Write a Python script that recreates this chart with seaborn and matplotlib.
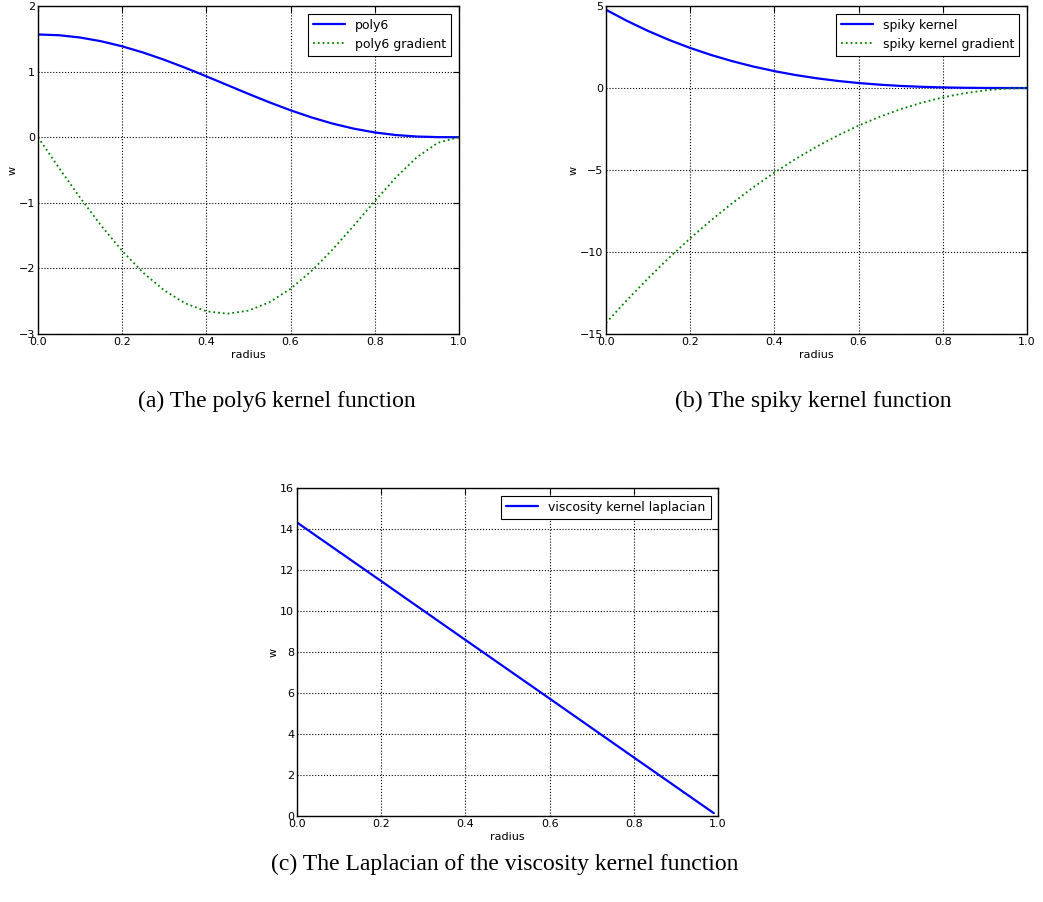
import numpy as np
import pandas as pd
import matplotlib
matplotlib.use("Agg")
import matplotlib.pyplot as plt
import seaborn as sns

# valores (raio de 0 a 1, passo 0.05)
raio = [0.00, 0.05, 0.10, 0.15, 0.20, 0.25, 0.30, 0.35, 0.40, 0.45, 0.50,
        0.55, 0.60, 0.65, 0.70, 0.75, 0.80, 0.85, 0.90, 0.95, 1.00]

poly6 = [1.5667, 1.5550, 1.5202, 1.4633, 1.3861, 1.2909, 1.1806, 1.0586,
         0.9286, 0.7947, 0.6610, 0.5316, 0.4107, 0.3017, 0.2078, 0.1312,
         0.0731, 0.0335, 0.0107, 0.0015, 0.0]
poly6_grad = [0.0, -0.4677, -0.9213, -1.3473, -1.7326, -2.0655, -2.3353,
              -2.5333, -2.6531, -2.6903, -2.6438, -2.5153, -2.3102, -2.0377,
              -1.7115, -1.3494, -0.9746, -0.6153, -0.3054, -0.0849, 0.0]

spiky = [4.7746, 4.0936, 3.4807, 2.9322, 2.4446, 2.0143, 1.6377, 1.3112,
         1.0313, 0.7944, 0.5968, 0.4351, 0.3056, 0.2047, 0.1289, 0.0746,
         0.0382, 0.0161, 0.0048, 0.0006, 0.0]
spiky_grad = [-14.3239, -12.9273, -11.6024, -10.3490, -9.1673, -8.0572,
              -7.0187, -6.0518, -5.1566, -4.3330, -3.5810, -2.9006, -2.2918,
              -1.7547, -1.2892, -0.8952, -0.5730, -0.3223, -0.1432, -0.0358, 0.0]

raio_visc = [0.0, 0.2, 0.4, 0.6, 0.8, 0.99]
visc_lap = [14.32, 11.46, 8.59, 5.73, 2.86, 0.14]

legendas = {
    'poly6': ['poly6', 'poly6 gradient'],
    'spiky': ['spiky kernel', 'spiky kernel gradient'],
    'visc': ['viscosity kernel laplacian'],
}
legendas_fig = ['(a) The poly6 kernel function',
                '(b) The spiky kernel function',
                '(c) The Laplacian of the viscosity kernel function']

sns.set_style("white")
plt.rcParams['font.family'] = ['DejaVu Sans']
plt.rcParams['axes.unicode_minus'] = True
plt.rcParams['text.color'] = 'black'
plt.rcParams['axes.labelcolor'] = 'black'

fig = plt.figure(figsize=(10.43, 9.02), dpi=100)
ax1 = fig.add_axes([0.0364, 0.6297, 0.4036, 0.3636])
ax2 = fig.add_axes([0.581, 0.6297, 0.4036, 0.3636])
ax3 = fig.add_axes([0.2848, 0.0953, 0.4036, 0.3636])


def estilo(ax, ylim, yticks):
    ax.set_xlim(0, 1)
    ax.set_ylim(*ylim)
    ax.set_xticks([0.0, 0.2, 0.4, 0.6, 0.8, 1.0])
    ax.set_yticks(yticks)
    ax.grid(True, color='black', linestyle=':', linewidth=0.8)
    ax.tick_params(direction='in', length=4, width=0.8, top=True, right=True,
                   labelsize=8, pad=2, colors='black')
    for s in ax.spines.values():
        s.set_color('black')
        s.set_linewidth(1.0)
    ax.set_xlabel('radius', fontsize=8, labelpad=2)
    ax.set_ylabel('w', fontsize=8, labelpad=1)
    leg = ax.legend(loc='upper right', fontsize=9, fancybox=False,
                    framealpha=1, edgecolor='black', handlelength=2.6,
                    borderaxespad=0.6)
    leg.get_frame().set_linewidth(0.8)


# (a) poly6
df_a = pd.DataFrame({'radius': raio, 'w': poly6})
df_a2 = pd.DataFrame({'radius': raio, 'w': poly6_grad})
sns.lineplot(data=df_a, x='radius', y='w', ax=ax1, color='blue', lw=1.6,
             label=legendas['poly6'][0])
sns.lineplot(data=df_a2, x='radius', y='w', ax=ax1, color='green', lw=1.3,
             linestyle=':', label=legendas['poly6'][1])
estilo(ax1, (-3, 2), [-3, -2, -1, 0, 1, 2])

# (b) spiky
df_b = pd.DataFrame({'radius': raio, 'w': spiky})
df_b2 = pd.DataFrame({'radius': raio, 'w': spiky_grad})
sns.lineplot(data=df_b, x='radius', y='w', ax=ax2, color='blue', lw=1.6,
             label=legendas['spiky'][0])
sns.lineplot(data=df_b2, x='radius', y='w', ax=ax2, color='green', lw=1.3,
             linestyle=':', label=legendas['spiky'][1])
estilo(ax2, (-15, 5), [-15, -10, -5, 0, 5])

# (c) viscosidade
df_c = pd.DataFrame({'radius': raio_visc, 'w': visc_lap})
sns.lineplot(data=df_c, x='radius', y='w', ax=ax3, color='blue', lw=1.6,
             label=legendas['visc'][0])
estilo(ax3, (0, 16), [0, 2, 4, 6, 8, 10, 12, 14, 16])

# legendas das figuras
fonte_cap = ['Liberation Serif', 'DejaVu Serif']
fig.text(0.265, 0.555, legendas_fig[0], ha='center', va='center',
         fontsize=17, family=fonte_cap)
fig.text(0.78, 0.555, legendas_fig[1], ha='center', va='center',
         fontsize=17, family=fonte_cap)
fig.text(0.484, 0.042, legendas_fig[2], ha='center', va='center',
         fontsize=17, family=fonte_cap)

plt.savefig('out.png', dpi=100)
